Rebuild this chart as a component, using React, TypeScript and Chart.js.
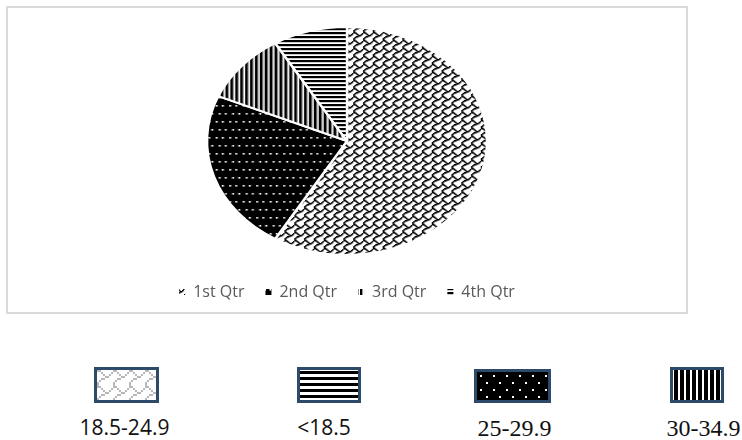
import React, { useEffect, useRef } from "react";
import { Chart, registerables } from "chart.js";

Chart.register(...registerables);

// ---- data ----
const categories = ["1st Qtr", "2nd Qtr", "3rd Qtr", "4th Qtr"];
const values = [8.2, 3.2, 1.4, 1.2];
const bmiLabels = ["18.5-24.9", "<18.5", "25-29.9", "30-34.9"];

// ---- pattern helpers ----
const SHINGLE = [0x03, 0x84, 0x48, 0x30, 0x0c, 0x02, 0x01, 0x01];

function bitmapTile(rows: number[], fg: string, bg: string, px: number, dot: number, mirror: boolean) {
  const c = document.createElement("canvas");
  c.width = 8 * px;
  c.height = 8 * px;
  const g = c.getContext("2d")!;
  g.fillStyle = bg;
  g.fillRect(0, 0, c.width, c.height);
  g.fillStyle = fg;
  rows.forEach((r, y) => {
    for (let x = 0; x < 8; x++) {
      const bit = mirror ? 1 << x : 0x80 >> x;
      if (r & bit) g.fillRect(x * px, y * px, dot, dot);
    }
  });
  return c;
}

function tile(w: number, h: number, draw: (g: CanvasRenderingContext2D) => void) {
  const c = document.createElement("canvas");
  c.width = w;
  c.height = h;
  draw(c.getContext("2d")!);
  return c;
}

function dotsTile() {
  return tile(11, 16, (g) => {
    g.fillStyle = "#000";
    g.fillRect(0, 0, 11, 16);
    g.fillStyle = "#fff";
    [[1, 1], [6, 1], [3.5, 9], [8.5, 9]].forEach(([x, y]) => g.fillRect(x, y, 1.6, 1.6));
  });
}
function vStripeTile() {
  return tile(4, 4, (g) => {
    g.fillStyle = "#fff";
    g.fillRect(0, 0, 4, 4);
    g.fillStyle = "#000";
    g.fillRect(0, 0, 2.4, 4);
  });
}
function hStripeTile() {
  return tile(4, 4, (g) => {
    g.fillStyle = "#fff";
    g.fillRect(0, 0, 4, 4);
    g.fillStyle = "#000";
    g.fillRect(0, 0, 4, 2.2);
  });
}

const SX = 1.228; // horizontal stretch of the pie (ellipse)

const stretchPlugin = {
  id: "stretch",
  beforeDatasetsDraw(chart: any) {
    const { ctx, chartArea: a } = chart;
    const cx = (a.left + a.right) / 2;
    const cy = (a.top + a.bottom) / 2;
    ctx.save();
    ctx.translate(cx, cy);
    ctx.scale(SX, 1);
    ctx.translate(-cx, -cy);
  },
  afterDatasetsDraw(chart: any) {
    chart.ctx.restore();
  },
};

function PieChart() {
  const ref = useRef<HTMLCanvasElement>(null);
  useEffect(() => {
    const canvas = ref.current!;
    const ctx = canvas.getContext("2d")!;
    const patterns = [
      ctx.createPattern(bitmapTile(SHINGLE, "#000", "#fff", 1, 1.5, true), "repeat"),
      ctx.createPattern(dotsTile(), "repeat"),
      ctx.createPattern(vStripeTile(), "repeat"),
      ctx.createPattern(hStripeTile(), "repeat"),
    ];
    const baseGen = (Chart as any).overrides.pie.plugins.legend.labels.generateLabels;
    const chart = new Chart(canvas, {
      type: "pie",
      data: {
        labels: categories,
        datasets: [
          {
            data: values,
            backgroundColor: patterns as any,
            borderColor: "#ffffff",
            borderWidth: 2,
            radius: 114,
            hoverOffset: 0,
          } as any,
        ],
      },
      options: {
        animation: false,
        responsive: true,
        maintainAspectRatio: false,
        layout: { padding: { top: 11, bottom: 2, left: 0, right: 0 } },
        plugins: {
          tooltip: { enabled: false },
          legend: {
            position: "bottom",
            labels: {
              boxWidth: 6,
              boxHeight: 6,
              padding: 21,
              color: "#595959",
              font: { family: "'Open Sans', sans-serif", size: 16 },
              generateLabels: (c: any) =>
                baseGen(c).map((l: any) => ({ ...l, lineWidth: 0, strokeStyle: "rgba(0,0,0,0)" })),
            },
          },
        },
      } as any,
      plugins: [stretchPlugin],
    });
    return () => chart.destroy();
  }, []);
  return <canvas ref={ref} />;
}

type SwatchProps = { left: number; top: number; width: number; height: number; kind: number };

function Swatch({ left, top, width, height, kind }: SwatchProps) {
  const ref = useRef<HTMLCanvasElement>(null);
  const iw = width - 6;
  const ih = height - 6;
  useEffect(() => {
    const g = ref.current!.getContext("2d")!;
    g.clearRect(0, 0, iw, ih);
    if (kind === 0) {
      g.fillStyle = g.createPattern(bitmapTile(SHINGLE, "#b8b8b8", "#fff", 2, 2, true), "repeat")!;
      g.fillRect(0, 0, iw, ih);
    } else if (kind === 1) {
      g.fillStyle = "#fff";
      g.fillRect(0, 0, iw, ih);
      g.fillStyle = "#000";
      for (let y = 1; y < ih; y += 6) g.fillRect(0, y, iw, 3);
    } else if (kind === 2) {
      g.fillStyle = "#000";
      g.fillRect(0, 0, iw, ih);
      g.fillStyle = "#fff";
      let row = 0;
      for (let y = 3; y < ih; y += 7, row++) {
        for (let x = row % 2 ? 9 : 3; x < iw; x += 13) g.fillRect(x, y, 2, 2);
      }
    } else {
      g.fillStyle = "#fff";
      g.fillRect(0, 0, iw, ih);
      g.fillStyle = "#000";
      for (let x = 1; x < iw; x += 6) g.fillRect(x, 0, 4, ih);
    }
  }, [kind, iw, ih]);
  return (
    <div
      style={{
        position: "absolute",
        left,
        top,
        width,
        height,
        boxSizing: "border-box",
        border: "3px solid #2e4a6b",
      }}
    >
      <canvas ref={ref} width={iw} height={ih} style={{ display: "block" }} />
    </div>
  );
}

const swatchBoxes = [
  { left: 94, top: 367, width: 65, height: 36 },
  { left: 297, top: 367, width: 64, height: 36 },
  { left: 474, top: 369, width: 77, height: 34 },
  { left: 670, top: 367, width: 54, height: 36 },
];

const SERIF = "'Liberation Serif', 'Times New Roman', 'DejaVu Serif', serif";
const labelStyles: React.CSSProperties[] = [
  { left: 64, width: 121, top: 417, fontFamily: "'Open Sans', sans-serif", fontSize: 21, lineHeight: "21px" },
  { left: 264, width: 120, top: 417, fontFamily: "'Open Sans', sans-serif", fontSize: 21, lineHeight: "21px" },
  { left: 455, width: 119, top: 416, fontFamily: SERIF, fontSize: 24, lineHeight: "24px" },
  { left: 665, width: 77, top: 416, fontFamily: SERIF, fontSize: 24, lineHeight: "24px" },
];

export default function App() {
  return (
    <div>
      <div
        style={{
          position: "absolute",
          left: 6,
          top: 6,
          width: 682,
          height: 308,
          boxSizing: "border-box",
          border: "2px solid #dadada",
          background: "#fff",
        }}
      />
      <div style={{ position: "absolute", left: 8, top: 8, width: 678, height: 304 }}>
        <PieChart />
      </div>
      {swatchBoxes.map((b, i) => (
        <Swatch key={i} {...b} kind={i} />
      ))}
      {bmiLabels.map((t, i) => (
        <div
          key={t}
          style={{
            position: "absolute",
            textAlign: "center",
            color: "#111",
            whiteSpace: "nowrap",
            ...labelStyles[i],
          }}
        >
          {t}
        </div>
      ))}
    </div>
  );
}
